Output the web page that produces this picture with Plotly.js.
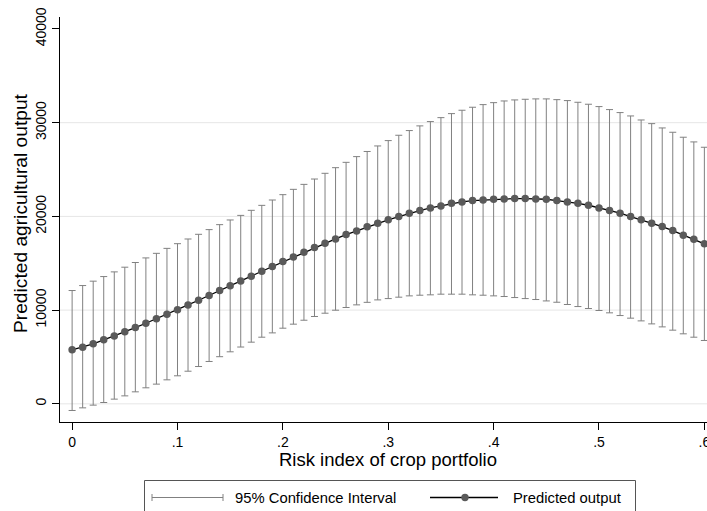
<!DOCTYPE html>
<html>
<head>
<meta charset="utf-8">
<script src="https://cdn.plot.ly/plotly-3.0.1.min.js"></script>
<style>
html,body{margin:0;padding:0;background:#fff;}
#chart{width:707px;height:511px;}
</style>
</head>
<body>
<div id="chart"></div>
<script>
// Risk index of crop portfolio
const riskIndex = [0.00,0.01,0.02,0.03,0.04,0.05,0.06,0.07,0.08,0.09,
  0.10,0.11,0.12,0.13,0.14,0.15,0.16,0.17,0.18,0.19,
  0.20,0.21,0.22,0.23,0.24,0.25,0.26,0.27,0.28,0.29,
  0.30,0.31,0.32,0.33,0.34,0.35,0.36,0.37,0.38,0.39,
  0.40,0.41,0.42,0.43,0.44,0.45,0.46,0.47,0.48,0.49,
  0.50,0.51,0.52,0.53,0.54,0.55,0.56,0.57,0.58,0.59,0.60];

// Predicted agricultural output
const predicted = [5760,6050,6400,6830,7250,7680,8140,8600,9070,9560,
  10050,10550,11050,11550,12080,12590,13120,13620,14150,14650,
  15180,15680,16180,16680,17140,17600,18060,18450,18900,19270,
  19630,19980,20340,20620,20910,21120,21400,21550,21690,21760,
  21830,21870,21900,21900,21870,21830,21690,21550,21400,21190,
  20910,20620,20340,19980,19630,19270,18920,18490,17990,17560,17070];

// 95% CI upper bound
const ciUpper = [12090,12620,13090,13580,14080,14580,15080,15570,16060,16590,
  17090,17590,18090,18590,19120,19620,20110,20650,21180,21750,
  22320,22890,23420,23990,24600,25200,25770,26380,26930,27520,
  28090,28660,29160,29660,30120,30540,30970,31330,31650,31930,
  32140,32320,32430,32500,32540,32540,32460,32360,32180,31970,
  31720,31400,31080,30720,30290,29900,29440,28980,28450,27950,27380];

// 95% CI lower bound
const ciLower = [-710,-430,-140,140,500,850,1280,1710,2100,2560,
  2990,3480,3980,4520,5030,5550,6060,6580,7110,7570,
  8070,8500,8920,9320,9670,9990,10280,10560,10830,11090,
  11230,11380,11520,11590,11630,11700,11700,11700,11630,11590,
  11520,11450,11340,11230,11130,10980,10840,10600,10380,10170,
  9960,9710,9420,9140,8850,8530,8210,7860,7470,7110,6760];

// Axis ticks
const xTickVals = [0,0.1,0.2,0.3,0.4,0.5,0.6];
const xTickText = ['0','.1','.2','.3','.4','.5','.6'];
const yTickVals = [0,10000,20000,30000,40000];
const yTickText = ['0','10000','20000','30000','40000'];
const gridVals = [0,10000,20000,30000];

const legendLabels = ['95% Confidence Interval','Predicted output'];
const xTitle = 'Risk index of crop portfolio';
const yTitle = 'Predicted agricultural output';

const FONT = 'Liberation Sans, Arial, Helvetica, sans-serif';
const W = 707, H = 511;
const M = {l:60, r:0, t:17, b:89};
const PW = W - M.l - M.r, PH = H - M.t - M.b;
const px = x => (x - M.l) / PW;
const py = y => (H - M.b - y) / PH;

const errPlus = ciUpper.map((u,i) => u - predicted[i]);
const errMinus = ciLower.map((l,i) => predicted[i] - l);

const ciTrace = {
  x: riskIndex, y: predicted, type:'scatter', mode:'markers',
  marker:{size:1, color:'rgba(0,0,0,0)'},
  error_y:{type:'data', symmetric:false, array:errPlus, arrayminus:errMinus,
           color:'#808080', thickness:1, width:3.5},
  showlegend:false, hoverinfo:'skip'
};
const predTrace = {
  x: riskIndex, y: predicted, type:'scatter', mode:'lines+markers',
  line:{color:'#000', width:1.3},
  marker:{size:7.5, color:'#5a5a5a', line:{width:0}},
  showlegend:false
};

const shapes = gridVals.map(v => ({
  type:'line', xref:'paper', yref:'y', x0:0, x1:1, y0:v, y1:v,
  line:{color:'#e6e6e6', width:1}, layer:'below'
}));

// custom legend
const LY = 497.5;
shapes.push({type:'rect', xref:'paper', yref:'paper',
  x0:px(144.5), x1:px(635.5), y0:py(480.5), y1:py(520),
  line:{color:'#555', width:1}, fillcolor:'rgba(0,0,0,0)'});
shapes.push({type:'line', xref:'paper', yref:'paper',
  x0:px(152), x1:px(223), y0:py(LY), y1:py(LY), line:{color:'#808080', width:1}});
shapes.push({type:'line', xref:'paper', yref:'paper',
  x0:px(152), x1:px(152), y0:py(LY-3.5), y1:py(LY+3.5), line:{color:'#808080', width:1}});
shapes.push({type:'line', xref:'paper', yref:'paper',
  x0:px(223), x1:px(223), y0:py(LY-3.5), y1:py(LY+3.5), line:{color:'#808080', width:1}});
shapes.push({type:'line', xref:'paper', yref:'paper',
  x0:px(430), x1:px(498), y0:py(LY), y1:py(LY), line:{color:'#000', width:1.3}});
shapes.push({type:'circle', xref:'paper', yref:'paper',
  x0:px(461.3), x1:px(468.7), y0:py(LY-3.7), y1:py(LY+3.7),
  line:{width:0}, fillcolor:'#5a5a5a'});

const annotations = [
  {text:legendLabels[0], xref:'paper', yref:'paper', x:px(233), y:py(LY),
   xanchor:'left', yanchor:'middle', showarrow:false, font:{family:FONT, size:14.8, color:'#000'}},
  {text:legendLabels[1], xref:'paper', yref:'paper', x:px(511), y:py(LY),
   xanchor:'left', yanchor:'middle', showarrow:false, font:{family:FONT, size:14.8, color:'#000'}},
  {text:yTitle, xref:'paper', yref:'paper', x:px(20), y:py(213), textangle:-90,
   xanchor:'center', yanchor:'middle', showarrow:false, font:{family:FONT, size:19.2, color:'#000'}},
  {text:xTitle, xref:'paper', yref:'paper', x:px(388.5), y:py(459),
   xanchor:'center', yanchor:'middle', showarrow:false, font:{family:FONT, size:18.5, color:'#000'}}
];

const layout = {
  width:W, height:H, margin:M,
  paper_bgcolor:'#fff', plot_bgcolor:'#fff',
  font:{family:FONT, color:'#000'},
  showlegend:false,
  xaxis:{range:[-0.0115,0.6025], tickmode:'array', tickvals:xTickVals, ticktext:xTickText,
    showgrid:false, zeroline:false, showline:true, linecolor:'#000', linewidth:1,
    ticks:'outside', ticklen:7, tickcolor:'#000', tickwidth:1, ticklabeloverflow:'allow',
    tickfont:{family:FONT, size:14}, fixedrange:true},
  yaxis:{range:[-1940,41280], tickmode:'array', tickvals:yTickVals, ticktext:yTickText,
    showgrid:false, zeroline:false, showline:true, linecolor:'#000', linewidth:1,
    ticks:'outside', ticklen:7, tickcolor:'#000', tickwidth:1, tickangle:-90,
    ticklabeloverflow:'allow',
    tickfont:{family:FONT, size:14}, fixedrange:true},
  shapes:shapes, annotations:annotations
};

Plotly.newPlot('chart', [ciTrace, predTrace], layout, {displayModeBar:false, staticPlot:true});
</script>
</body>
</html>
